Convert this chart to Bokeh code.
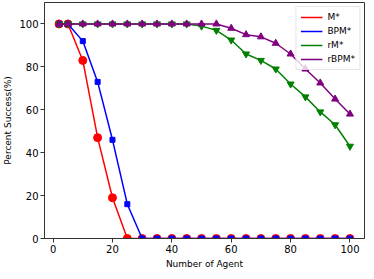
from bokeh.plotting import figure
from bokeh.models import Range1d, Legend, LegendItem, FixedTicker
from bokeh.embed import file_html
from bokeh.resources import INLINE

agents = [2, 5, 10, 15, 20, 25, 30, 35, 40, 45, 50, 55, 60, 65, 70, 75, 80, 85, 90, 95, 100]
m_star = [100, 100, 83, 47, 19, 0, 0, 0, 0, 0, 0, 0, 0, 0, 0, 0, 0, 0, 0, 0, 0]
bpm_star = [100, 100, 92, 73, 46, 16, 0, 0, 0, 0, 0, 0, 0, 0, 0, 0, 0, 0, 0, 0, 0]
rm_star = [100, 100, 100, 100, 100, 100, 100, 100, 100, 100, 99, 97, 92.5, 86, 83, 79, 72, 66, 59, 53, 43]
rbpm_star = [100, 100, 100, 100, 100, 100, 100, 100, 100, 100, 100, 100, 98, 95, 94, 91, 86, 79, 72.5, 65, 58]
series_names = ["M*", "BPM*", "rM*", "rBPM*"]
ticks = [0, 20, 40, 60, 80, 100]

FONT = "DejaVu Sans"

p = figure(width=366, height=271, output_backend="svg", toolbar_location=None,
           x_range=Range1d(-2.9, 104.9), y_range=Range1d(0, 110),
           min_border_left=38, min_border_right=2, min_border_top=2, min_border_bottom=30)
p.xgrid.visible = False
p.ygrid.visible = False
p.outline_line_color = "#333333"
p.outline_line_width = 1

specs = [
    (m_star, "#ff0000", "circle", 8),
    (bpm_star, "#0000ff", "square", 5),
    (rm_star, "#008000", "inverted_triangle", 7),
    (rbpm_star, "#800080", "triangle", 7),
]
items = []
for name, (vals, col, mk, sz) in zip(series_names, specs):
    r = p.line(agents, vals, line_color=col, line_width=1.5)
    p.scatter(agents, vals, marker=mk, size=sz, fill_color=col, line_color=col)
    items.append(LegendItem(label=name, renderers=[r]))

legend = Legend(items=items, location="top_right")
legend.label_text_font = FONT
legend.label_text_font_size = "9px"
legend.label_text_color = "#000000"
legend.glyph_height = 12
legend.glyph_width = 22
legend.label_height = 12
legend.spacing = 2
legend.padding = 4
legend.margin = 4
legend.border_line_color = "#cccccc"
legend.background_fill_alpha = 0.8
p.add_layout(legend)

for ax in (p.xaxis[0], p.yaxis[0]):
    ax.ticker = FixedTicker(ticks=ticks)
    ax.minor_tick_line_color = None
    ax.major_tick_in = 0
    ax.major_tick_out = 4
    ax.major_label_text_font = FONT
    ax.major_label_text_font_size = "10px"
    ax.major_label_text_color = "#000000"
    ax.axis_label_text_font = FONT
    ax.axis_label_text_font_size = "9px"
    ax.axis_label_text_font_style = "normal"
    ax.axis_label_text_color = "#000000"
    ax.axis_line_color = "#333333"
    ax.major_tick_line_color = "#333333"
    ax.axis_label_standoff = 3
    ax.major_label_standoff = 2

p.xaxis.axis_label = "Number of Agent"
p.yaxis.axis_label = "Percent Success(%)"

open("out.html", "w").write(file_html(p, INLINE))
